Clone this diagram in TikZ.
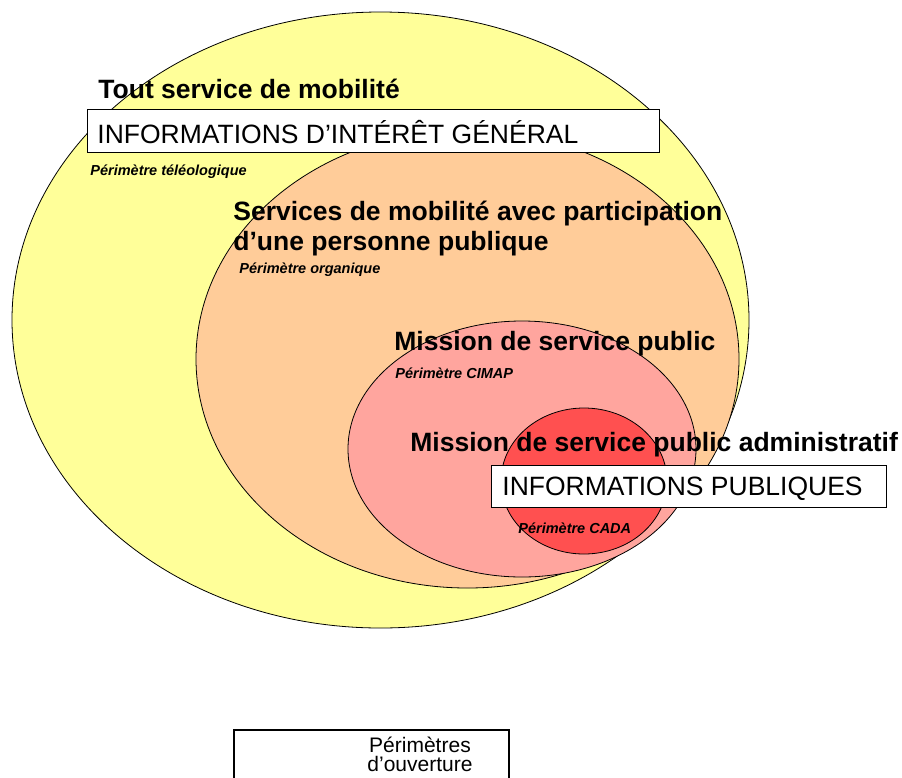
\documentclass[tikz,border=0pt]{standalone}
\usepackage{fontspec}
\setmainfont{Liberation Sans}
\definecolor{jaune}{HTML}{FFFF99}
\definecolor{orange}{HTML}{FFCC99}
\definecolor{rose}{HTML}{FFA59E}
\definecolor{rouge}{HTML}{FF5050}
\tikzset{
  titre/.style={anchor=base west, inner sep=0, font=\fontsize{26.5}{30}\selectfont\bfseries},
  perim/.style={anchor=base west, inner sep=0, font=\fontsize{14.5}{17}\selectfont\bfseries\itshape},
  info/.style={anchor=base west, inner sep=0, font=\fontsize{26.5}{30}\selectfont},
  legende/.style={anchor=base, inner sep=0, font=\fontsize{21}{24}\selectfont}
}

\begin{document}
\begin{tikzpicture}[x=1pt,y=-1pt,line width=0.8pt]
\useasboundingbox (0,0) rectangle (902,777);
% perimetres
\draw[fill=jaune] (380.5,320) ellipse [x radius=368.5, y radius=308];
\draw[fill=orange] (467.5,359) ellipse [x radius=271.5, y radius=229];
\draw[fill=rose] (522,449) ellipse [x radius=174, y radius=128];
\draw[fill=rouge] (584,481) ellipse [x radius=83, y radius=73];
% informations d'interet general
\draw[fill=white] (87,109) rectangle (659,152);
\node[titre] (tout) at (98,98) {Tout service de mobilité};
\node[info] (ig) at (97,143) {INFORMATIONS D’INTÉRÊT GÉNÉRAL};
\node[perim] (teleo) at (90,175) {Périmètre téléologique};
\node[titre] (serv1) at (233,220) {Services de mobilité avec participation};
\node[titre] (serv2) at (233,250) {d’une personne publique};
\node[perim] (orga) at (239,273) {Périmètre organique};
\node[titre] (msp) at (394,350) {Mission de service public};
\node[perim] (cimap) at (395,378) {Périmètre CIMAP};
\node[titre] (mspa) at (410,451) {Mission de service public administratif};
% informations publiques
\draw[fill=white] (491,465) rectangle (886,507);
\node[info] (ip) at (502,495) {INFORMATIONS PUBLIQUES};
\node[perim] (cada) at (518,533) {Périmètre CADA};
% legende
\draw[line width=1.5pt] (234,790) -- (234,730) -- (509,730) -- (509,790);
\node[legende] (ouv1) at (420,752) {Périmètres};
\node[legende] (ouv2) at (420,771) {d’ouverture};
\end{tikzpicture}
\end{document}
